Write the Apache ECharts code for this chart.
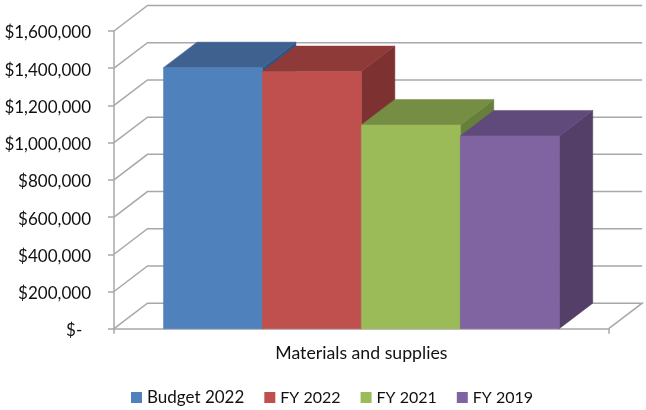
<!DOCTYPE html>
<html><head><meta charset="utf-8">
<style>html,body{margin:0;padding:0;background:#fff}#c{width:646px;height:410px}</style>
<script src="https://cdn.jsdelivr.net/npm/echarts@6/dist/echarts.min.js"></script>
</head><body><div id="c"></div>
<script>
const categories = ['Materials and supplies'];
const seriesNames = ['Budget 2022', 'FY 2022', 'FY 2021', 'FY 2019'];
const values = [1403000, 1382000, 1095000, 1036000];
const yTicks = [0, 200000, 400000, 600000, 800000, 1000000, 1200000, 1400000, 1600000];
const frontColors = ['#4F81BD', '#C0504D', '#9BBB59', '#8064A2'];
const topColors = ['#3F618F', '#8E3A38', '#768E44', '#604A7B'];
const sideColors = ['#2F5487', '#7D3130', '#66803A', '#533F68'];
const legendFontSizes = [17, 16, 16, 16];
const DX = 33.5, DY = -25.5, LINE = '#A8A8A8', FONT = 'Lato', INK = '#111111';

function wallItem(params, api) {
  const tick = api.value(1);
  const size = api.size([1, 0])[0];
  const c = api.coord([0, tick]);
  const x0 = c[0] - size / 2, x1 = c[0] + size / 2, y = c[1];
  const st = {stroke: LINE, lineWidth: 1.5, fill: 'none'};
  const pts = tick === 0
    ? [[x0, y], [x0 + DX, y + DY], [x1 + DX, y + DY], [x1, y]]
    : [[x0, y], [x0 + DX, y + DY], [x1 + DX, y + DY]];
  return {type: 'polyline', shape: {points: pts}, style: st, silent: true};
}
function barItem(idx) {
  return function (params, api) {
    const size = api.size([1, 0])[0];
    const top = api.coord([0, api.value(1)]);
    const base = api.coord([0, 0]);
    const w = size * 0.2;
    const xl = top[0] - size / 2 + size * 0.1 + idx * w, xr = xl + w;
    const yt = top[1], yb = base[1];
    const poly = (points, color) => ({type: 'polygon', shape: {points},
      style: {fill: color, stroke: color, lineWidth: 0.5}, silent: true});
    return {type: 'group', children: [
      poly([[xr, yt], [xr + DX, yt + DY], [xr + DX, yb + DY], [xr, yb]], sideColors[idx]),
      poly([[xl, yt], [xl + DX, yt + DY], [xr + DX, yt + DY], [xr, yt]], topColors[idx]),
      poly([[xl, yt], [xr, yt], [xr, yb], [xl, yb]], frontColors[idx])
    ]};
  };
}
const series = [{
  type: 'custom', name: 'walls', renderItem: wallItem, clip: false, z: 1,
  data: yTicks.map(t => [0, t]), encode: {x: 0, y: 1}
}];
seriesNames.forEach((name, i) => series.push({
  type: 'custom', name, renderItem: barItem(i), clip: false, z: 2 + i,
  itemStyle: {color: frontColors[i]},
  data: [[0, values[i]]], encode: {x: 0, y: 1}
}));
const chart = echarts.init(document.getElementById('c'), null, {renderer: 'canvas'});
chart.setOption({
  animation: false,
  backgroundColor: '#fff',
  grid: {left: 114, right: 37.3, top: 31, bottom: 81.3, containLabel: false},
  xAxis: {
    type: 'category', data: categories, boundaryGap: true,
    axisLine: {show: true, lineStyle: {color: LINE, width: 1.5}},
    axisTick: {show: true, length: 5, lineStyle: {color: LINE, width: 1.5}},
    axisLabel: {margin: 16, fontFamily: FONT, fontSize: 17.7, color: INK},
    splitLine: {show: false}
  },
  yAxis: {
    type: 'value', min: 0, max: 1600000, interval: 200000,
    axisLine: {show: true, lineStyle: {color: LINE, width: 1.5}},
    axisTick: {show: true, length: 6, lineStyle: {color: LINE, width: 1.5}},
    axisLabel: {margin: 23, verticalAlign: 'top', lineHeight: 4, fontFamily: FONT, fontSize: 17, color: INK,
      formatter: v => v === 0 ? '$-  ' : '$' + v.toLocaleString('en-US')},
    splitLine: {show: false}
  },
  legend: {
    data: seriesNames.map((name, i) => ({name, icon: 'rect', textStyle: {fontSize: legendFontSizes[i]}})),
    left: 126, top: 384, itemWidth: 11, itemHeight: 11, itemGap: 20,
    textStyle: {fontFamily: FONT, fontSize: 16, color: INK}
  },
  series
});
</script></body></html>
